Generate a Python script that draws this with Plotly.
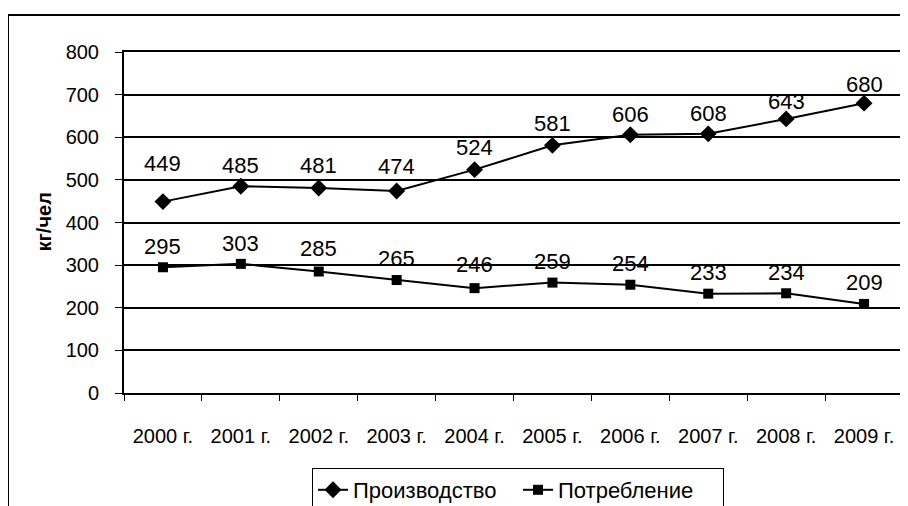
import plotly.graph_objects as go

years = ["2000 г.", "2001 г.", "2002 г.", "2003 г.", "2004 г.",
         "2005 г.", "2006 г.", "2007 г.", "2008 г.", "2009 г."]
production = [449, 485, 481, 474, 524, 581, 606, 608, 643, 680]
consumption = [295, 303, 285, 265, 246, 259, 254, 233, 234, 209]

# label offsets (pixels above the point) - style only
prod_shift = [38, 21, 22, 24, 22, 22, 20, 20, 17, 19]
cons_shift = [21, 20, 23, 22, 24, 21, 21, 21, 21, 21]

ARIAL = "Liberation Sans, Arial, sans-serif"

fig = go.Figure()
fig.add_trace(go.Scatter(
    x=years, y=production, name="Производство", mode="lines+markers",
    line=dict(color="black", width=2),
    marker=dict(symbol="diamond", size=13, color="black"),
))
fig.add_trace(go.Scatter(
    x=years, y=consumption, name="Потребление", mode="lines+markers",
    line=dict(color="black", width=2),
    marker=dict(symbol="square", size=10, color="black"),
))

annotations = []
for series, shifts in ((production, prod_shift), (consumption, cons_shift)):
    for x, v, s in zip(years, series, shifts):
        annotations.append(dict(
            x=x, y=v, xref="x", yref="y", text=str(v), showarrow=False,
            yshift=s, font=dict(family=ARIAL, size=22, color="black"),
        ))

# page body has an 8px margin, so figure coords = screen coords - 8
OFF = 8
W, H = 908 - OFF, 506 - OFF
plot_l, plot_r, plot_t, plot_b = 124 - OFF, 5, 52 - OFF, H - (393 - OFF)
pw = W - plot_l - plot_r
ph = H - plot_t - plot_b


def px_x(sx):
    return (sx - OFF - plot_l) / pw


def px_y(sy):
    return (plot_t + ph - (sy - OFF)) / ph


# y-axis title
annotations.append(dict(
    x=px_x(43), y=0.5, xref="paper", yref="paper",
    text="<b>кг/чел</b>", textangle=-90, showarrow=False,
    font=dict(family=ARIAL, size=20, color="black"),
    xanchor="center", yanchor="middle",
))

fig.update_layout(
    width=W, height=H,
    margin=dict(l=plot_l, r=plot_r, t=plot_t, b=plot_b, pad=0,
                autoexpand=False),
    paper_bgcolor="white", plot_bgcolor="white",
    showlegend=True,
    legend=dict(
        orientation="h", x=px_x(518), xanchor="center",
        y=px_y(468), yanchor="top",
        bordercolor="black", borderwidth=1,
        font=dict(family=ARIAL, size=22, color="black"),
        itemwidth=30, entrywidth=160, entrywidthmode="pixels",
    ),
    annotations=annotations,
    shapes=[dict(
        type="rect", xref="paper", yref="paper",
        x0=px_x(8), x1=1.3,
        y0=-1.0, y1=px_y(15),
        line=dict(color="black", width=2), fillcolor="rgba(0,0,0,0)",
        layer="below",
    )],
)

fig.update_xaxes(
    type="category", range=[-0.5, len(years) - 0.5],
    showgrid=False, showline=True, linecolor="black",
    linewidth=2, mirror=True, ticks="outside", tickson="boundaries",
    ticklen=6, tickcolor="black", tickwidth=1, automargin=False,
    tickfont=dict(family=ARIAL, size=20, color="black"),
    ticklabelstandoff=24,
)
fig.update_yaxes(
    range=[0, 800], dtick=100, showgrid=True, gridcolor="black",
    gridwidth=1.5, showline=True, linecolor="black", linewidth=2,
    mirror=True, ticks="outside", ticklen=7, tickcolor="black",
    automargin=False,
    tickfont=dict(family=ARIAL, size=20, color="black"),
    ticklabelstandoff=12, zeroline=False,
)

fig.write_html("out.html")
